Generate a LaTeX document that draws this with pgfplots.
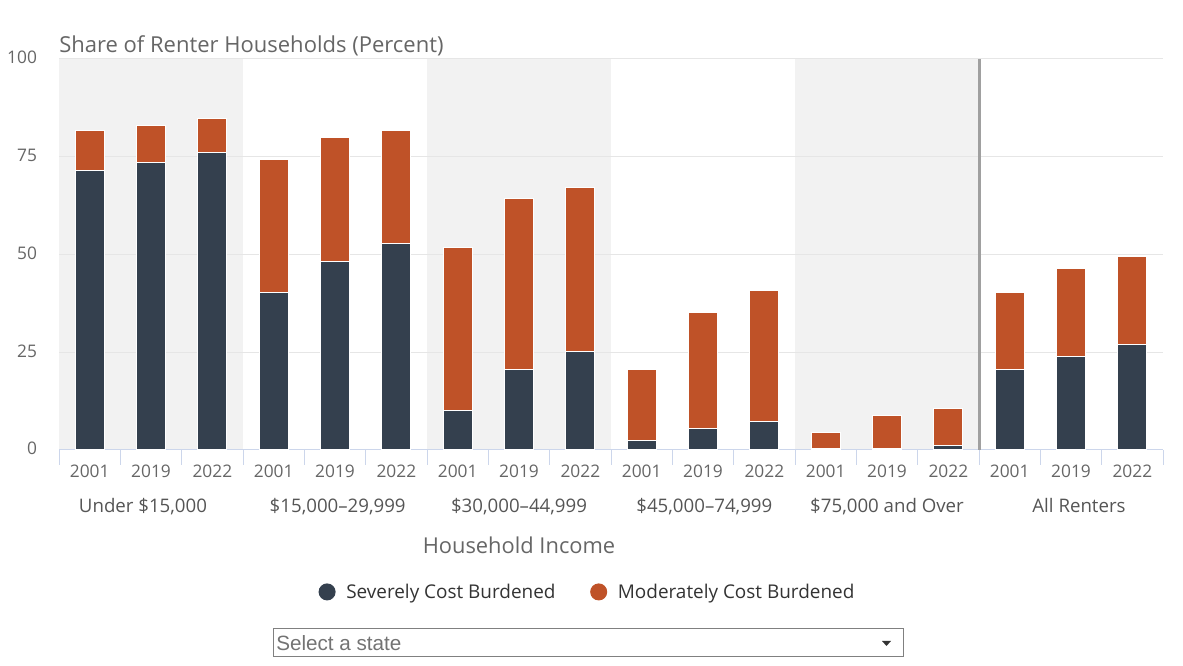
\documentclass[border=0pt]{standalone}
\usepackage{pgfplots}
\pgfplotsset{compat=1.18}
\usepackage{pgfplotstable}
\usepackage{fontspec}
\setmainfont{Open Sans}
\newfontfamily\arialfont{Liberation Sans}
\definecolor{sev}{HTML}{34404E}
\definecolor{mod}{HTML}{BF5228}
\definecolor{bgshade}{HTML}{F2F2F2}
\definecolor{gridc}{HTML}{E6E6E6}
\definecolor{axc}{HTML}{CCD6EB}
\definecolor{txt}{HTML}{666666}
\definecolor{grp}{HTML}{555555}
\definecolor{sepc}{HTML}{A0A0A0}

\pgfplotstableread{
x sev mod
0 71.6 10.0
1 73.4 9.7
2 76.0 8.7
3 40.4 34.0
4 48.3 31.7
5 52.7 28.9
6 10.0 41.9
7 20.5 43.8
8 25.1 42.0
9 2.4 18.3
10 5.6 29.5
11 7.2 33.5
12 0.3 4.1
13 0.3 8.5
14 1.1 9.6
15 20.5 19.8
16 24.0 22.3
17 26.9 22.7
}\datatable

\pgfplotsset{frame/.style={
  at={(44.25pt,162pt)}, anchor=south west,
  scale only axis, width=828pt, height=293.25pt,
  xmin=-0.5, xmax=17.5, ymin=0, ymax=100, clip=false}}
\tikzset{grplab/.style={font=\fontsize{14}{16}\selectfont, text=grp, text height=0.75em, text depth=0.25em, yshift=-44.5pt}}

\begin{document}
\begin{tikzpicture}
\useasboundingbox (0,0) rectangle (887.25pt,499.5pt);
% background: shaded bands and grid
\begin{axis}[frame, axis lines=none]
\fill[bgshade] (axis cs:-0.5,0) rectangle (axis cs:2.5,100);
\fill[bgshade] (axis cs:5.5,0) rectangle (axis cs:8.5,100);
\fill[bgshade] (axis cs:11.5,0) rectangle (axis cs:14.5,100);
\draw[gridc, line width=0.75pt] (axis cs:-0.5,25) -- (axis cs:17.5,25);
\draw[gridc, line width=0.75pt] (axis cs:-0.5,50) -- (axis cs:17.5,50);
\draw[gridc, line width=0.75pt] (axis cs:-0.5,75) -- (axis cs:17.5,75);
\draw[gridc, line width=0.75pt] (axis cs:-0.5,100) -- (axis cs:17.5,100);
\end{axis}
\begin{axis}[frame,
  ybar stacked, bar width=21.75pt,
  ytick={0,25,50,75,100},
  axis x line*=bottom, axis y line*=left,
  y axis line style={draw=none},
  x axis line style={axc, line width=0.75pt},
  ytick style={draw=none},
  xtick={0,...,17},
  xticklabels={2001,2019,2022,2001,2019,2022,2001,2019,2022,2001,2019,2022,2001,2019,2022,2001,2019,2022},
  major x tick style={draw=none},
  minor xtick={-0.5,0.5,...,17.5},
  minor x tick style={axc, line width=0.75pt},
  tick align=outside,
  major tick length=0pt,
  minor tick length=11.25pt,
  /pgf/number format/assume math mode=true,
  xticklabel style={font=\fontsize{13}{15}\selectfont, text=txt, yshift=-7.5pt},
  yticklabel style={font=\fontsize{13}{15}\selectfont, text=txt, anchor=east, xshift=-13pt, yshift=1pt},
  legend columns=2,
  legend style={at={(rel axis cs:0.479,-0.363)}, anchor=center, draw=none, fill=none,
    font=\fontsize{14.2}{16}\selectfont, text=black!80,
    /tikz/every odd column/.append style={column sep=6pt},
    /tikz/every even column/.append style={column sep=24pt}},
]
\addplot[fill=sev, draw=white, line width=0.75pt,
  legend image code/.code={\fill[sev] (0pt,0pt) circle (6pt);}]
  table[x=x, y=sev] {\datatable};
\addlegendentry{Severely Cost Burdened}
\addplot[fill=mod, draw=white, line width=0.75pt,
  legend image code/.code={\fill[mod] (0pt,0pt) circle (6pt);}]
  table[x=x, y=mod] {\datatable};
\addlegendentry{Moderately Cost Burdened}
\draw[sepc, line width=2.25pt] (axis cs:14.5,0) -- (axis cs:14.5,100);
\node[grplab, xshift=-6pt] at (axis cs:1,0) {Under \$15,000};
\node[grplab, xshift=2pt] at (axis cs:4,0) {\$15,000–29,999};
\node[grplab] at (axis cs:7,0) {\$30,000–44,999};
\node[grplab, xshift=1pt] at (axis cs:10,0) {\$45,000–74,999};
\node[grplab] at (axis cs:13,0) {\$75,000 and Over};
\node[grplab, xshift=6pt] at (axis cs:16,0) {All Renters};
\node[font=\fontsize{16.4}{19}\selectfont, text=txt] at (axis cs:7,0) [yshift=-71.5pt] {Household Income};
\node[font=\fontsize{16.5}{19}\selectfont, text=txt, anchor=base west, inner sep=0pt] at (rel axis cs:0,1) [yshift=5pt] {Share of Renter Households (Percent)};
\end{axis}
% state selector box
\draw[black!50, line width=0.75pt] (204.75pt,6.75pt) rectangle (677.25pt,27.75pt);
\node[anchor=west, inner sep=0pt, font=\arialfont\fontsize{15.5}{17}\selectfont, text=black!55] at (207pt,17pt) {Select a state};
\fill[black!80] (661.5pt,18.75pt) -- (668.25pt,18.75pt) -- (664.875pt,15pt) -- cycle;
\end{tikzpicture}
\end{document}
